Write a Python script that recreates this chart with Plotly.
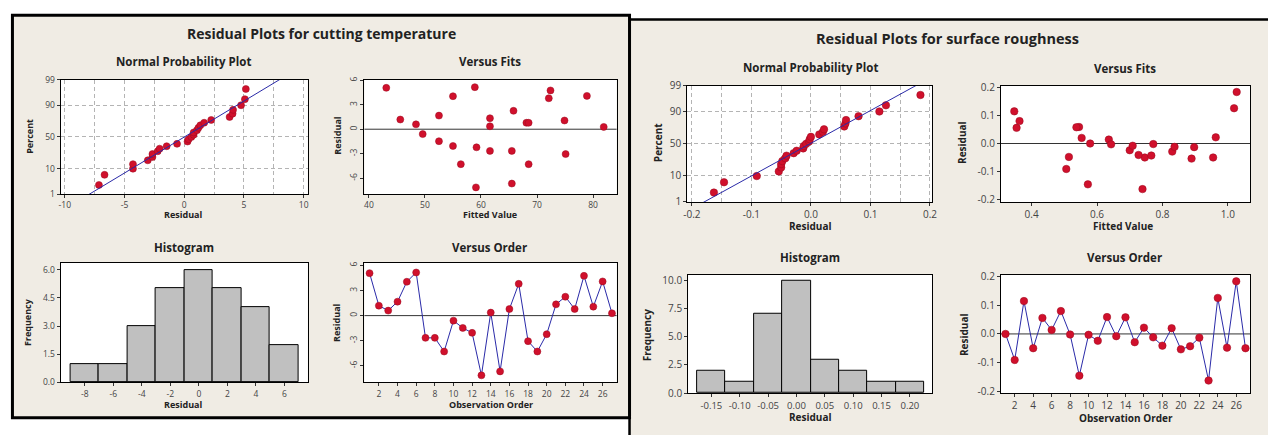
import plotly.graph_objects as go
from statistics import NormalDist, mean, stdev

W, H = 1268, 435

# ---------------- data: cutting temperature ----------------
temp_order = list(range(1, 28))
temp_resid = [5.08, 1.19, 0.60, 1.67, 4.05, 5.16, -2.66, -2.66, -4.29, -0.60,
              -1.47, -2.06, -7.14, 0.36, -6.67, 0.79, 3.80, -3.05, -4.29, -2.22,
              1.35, 2.26, 0.79, 4.76, 1.07, 4.09, 0.28]
temp_fit = [43.1, 45.6, 48.4, 52.5, 55.0, 58.9, 61.6, 65.5, 56.4, 49.6,
            52.5, 55.0, 59.1, 61.6, 65.5, 68.1, 72.1, 75.1, 68.5, 59.2,
            61.6, 65.8, 68.5, 72.4, 74.9, 78.9, 81.9]

# ---------------- data: surface roughness ----------------
rough_order = list(range(1, 28))
rough_resid = [0.000, -0.091, 0.115, -0.050, 0.056, 0.014, 0.080, -0.002, -0.146, -0.003,
               -0.024, 0.059, -0.008, 0.058, -0.029, 0.022, -0.012, -0.041, 0.020, -0.054,
               -0.043, -0.013, -0.163, 0.126, -0.048, 0.184, -0.050]
rough_fit = [0.579, 0.506, 0.347, 0.746, 0.354, 0.636, 0.363, 0.772, 0.572, 0.643,
             0.700, 0.545, 0.709, 0.537, 0.830, 0.963, 0.837, 0.727, 0.553, 0.889,
             0.766, 0.897, 0.739, 1.019, 0.514, 1.027, 0.955]

# ---------------- tick labels ----------------
pct_ticks = [1, 10, 50, 90, 99]
pct_labels = ["1", "10", "50", "90", "99"]
temp_npp_x = [-10, -5, 0, 5, 10]
temp_npp_x_lbl = ["-10", "-5", "0", "5", "10"]
temp_res_ticks = [-6, -3, 0, 3, 6]
temp_res_lbl = ["-6", "-3", "0", "3", "6"]
temp_fit_ticks = [40, 50, 60, 70, 80]
temp_fit_lbl = ["40", "50", "60", "70", "80"]
temp_hist_x = [-8, -6, -4, -2, 0, 2, 4, 6]
temp_hist_x_lbl = ["-8", "-6", "-4", "-2", "0", "2", "4", "6"]
temp_hist_y = [0, 1.5, 3.0, 4.5, 6.0]
temp_hist_y_lbl = ["0.0", "1.5", "3.0", "4.5", "6.0"]
order_ticks = list(range(2, 27, 2))
order_lbl = [str(v) for v in order_ticks]
rough_npp_x = [-0.2, -0.1, 0.0, 0.1, 0.2]
rough_npp_x_lbl = ["-0.2", "-0.1", "0.0", "0.1", "0.2"]
rough_res_ticks = [-0.2, -0.1, 0.0, 0.1, 0.2]
rough_res_lbl = ["-0.2", "-0.1", "0.0", "0.1", "0.2"]
rough_fit_ticks = [0.4, 0.6, 0.8, 1.0]
rough_fit_lbl = ["0.4", "0.6", "0.8", "1.0"]
rough_hist_x = [-0.15, -0.10, -0.05, 0.0, 0.05, 0.10, 0.15, 0.20]
rough_hist_x_lbl = ["-0.15", "-0.10", "-0.05", "0.00", "0.05", "0.10", "0.15", "0.20"]
rough_hist_y = [0, 2.5, 5.0, 7.5, 10.0]
rough_hist_y_lbl = ["0.0", "2.5", "5.0", "7.5", "10.0"]

# ---------------- style ----------------
FONT = "Open Sans"
BEIGE = "#f0ece4"
RED = "#d0102c"
REDEDGE = "#9a0a1e"
BLUE = "#2a2aa8"
GRID = "#b4b4b4"
DASH = "4px,3px"
TXT = "#222222"
TICK = "#444444"

nd = NormalDist()
zt = [nd.inv_cdf(p / 100.0) for p in pct_ticks]
zrange = [zt[0], zt[-1]]


def npp(vals):
    s = sorted(vals)
    n = len(s)
    z = [nd.inv_cdf((i + 1 - 0.3) / (n + 0.4)) for i in range(n)]
    m, sd = mean(vals), stdev(vals)
    zl = [-3.5, 3.5]
    xl = [m + sd * q for q in zl]
    return s, z, xl, zl


def dom_x(a, b):
    return [a / W, b / W]


def dom_y(top, bottom):
    return [1 - bottom / H, 1 - top / H]


def axis(domain, rng, tv, tt, anchor, size, angle=0, grid=False, minor=None):
    d = dict(domain=domain, range=rng, tickvals=tv, ticktext=tt, anchor=anchor,
             showline=True, linecolor="black", linewidth=1, mirror=True,
             ticks="outside", ticklen=3, tickcolor="#333", tickangle=angle,
             tickfont=dict(family=FONT, size=size, color=TICK),
             showgrid=grid, zeroline=False, fixedrange=True)
    if grid:
        d.update(gridcolor=GRID, griddash=DASH, gridwidth=1)
    if minor is not None:
        d["minor"] = dict(dtick=minor, tick0=0, showgrid=True, gridcolor=GRID,
                          griddash=DASH, gridwidth=1, ticks="")
    return d


fig = go.Figure()

mk = dict(color=RED, size=7, line=dict(color=REDEDGE, width=0.5))
mk2 = dict(color=RED, size=7.5, line=dict(color=REDEDGE, width=0.5))

# ---- left: cutting temperature ----
s, z, xl, zl = npp(temp_resid)
fig.add_trace(go.Scatter(x=s, y=z, mode="markers", marker=mk, xaxis="x", yaxis="y"))
fig.add_trace(go.Scatter(x=xl, y=zl, mode="lines", line=dict(color=BLUE, width=1),
                         xaxis="x", yaxis="y"))
fig.add_trace(go.Scatter(x=temp_fit, y=temp_resid, mode="markers", marker=mk,
                         xaxis="x2", yaxis="y2"))
fig.add_trace(go.Histogram(x=temp_resid, xbins=dict(start=-9, end=7, size=2),
                           marker=dict(color="#c0c0c0", line=dict(color="black", width=1)),
                           xaxis="x3", yaxis="y3"))
fig.add_trace(go.Scatter(x=temp_order, y=temp_resid, mode="lines+markers",
                         line=dict(color=BLUE, width=1), marker=mk,
                         xaxis="x4", yaxis="y4"))

# ---- right: surface roughness ----
s, z, xl, zl = npp(rough_resid)
fig.add_trace(go.Scatter(x=s, y=z, mode="markers", marker=mk2, xaxis="x5", yaxis="y5"))
fig.add_trace(go.Scatter(x=xl, y=zl, mode="lines", line=dict(color=BLUE, width=1),
                         xaxis="x5", yaxis="y5"))
fig.add_trace(go.Scatter(x=rough_fit, y=rough_resid, mode="markers", marker=mk2,
                         xaxis="x6", yaxis="y6"))
fig.add_trace(go.Histogram(x=rough_resid, xbins=dict(start=-0.175, end=0.225, size=0.05),
                           marker=dict(color="#c0c0c0", line=dict(color="black", width=1)),
                           xaxis="x7", yaxis="y7"))
fig.add_trace(go.Scatter(x=rough_order, y=rough_resid, mode="lines+markers",
                         line=dict(color=BLUE, width=1), marker=mk2,
                         xaxis="x8", yaxis="y8"))

# plot-area pixel boxes (left, right, top, bottom)
boxes = {
    1: (57, 306, 75, 193),
    2: (363, 617, 75, 193),
    3: (57, 306, 264, 387),
    4: (363, 617, 264, 387),
    5: (688, 935, 81, 201),
    6: (1004, 1255, 81, 201),
    7: (689, 935, 276, 398),
    8: (1004, 1255, 276, 398),
}

L = {}
b = boxes
L["xaxis"] = axis(dom_x(*b[1][:2]), [-10.35, 10.35], temp_npp_x, temp_npp_x_lbl, "y", 8.5,
                  grid=True, minor=2.5)
L["yaxis"] = axis(dom_y(*b[1][2:]), zrange, zt, pct_labels, "x", 8.5, grid=True)
L["xaxis2"] = axis(dom_x(*b[2][:2]), [39.2, 84.2], temp_fit_ticks, temp_fit_lbl, "y2", 8.5)
L["yaxis2"] = axis(dom_y(*b[2][2:]), [-7.98, 6.07], temp_res_ticks, temp_res_lbl, "x2", 8.5,
                   angle=-90)
L["xaxis3"] = axis(dom_x(*b[3][:2]), [-9.7, 7.65], temp_hist_x, temp_hist_x_lbl, "y3", 8.5)
L["yaxis3"] = axis(dom_y(*b[3][2:]), [0, 6.35], temp_hist_y, temp_hist_y_lbl, "x3", 8.5)
L["xaxis4"] = axis(dom_x(*b[4][:2]), [0.45, 27.5], order_ticks, order_lbl, "y4", 8.5)
L["yaxis4"] = axis(dom_y(*b[4][2:]), [-7.99, 6.28], temp_res_ticks, temp_res_lbl, "x4", 8.5,
                   angle=-90)

L["xaxis5"] = axis(dom_x(*b[5][:2]), [-0.208, 0.204], rough_npp_x, rough_npp_x_lbl, "y5", 10,
                   grid=True, minor=0.05)
L["yaxis5"] = axis(dom_y(*b[5][2:]), zrange, zt, pct_labels, "x5", 10, grid=True)
L["xaxis6"] = axis(dom_x(*b[6][:2]), [0.306, 1.068], rough_fit_ticks, rough_fit_lbl, "y6", 10)
L["yaxis6"] = axis(dom_y(*b[6][2:]), [-0.209, 0.207], rough_res_ticks, rough_res_lbl, "x6", 10)
L["xaxis7"] = axis(dom_x(*b[7][:2]), [-0.191, 0.2396], rough_hist_x, rough_hist_x_lbl, "y7", 9.5)
L["yaxis7"] = axis(dom_y(*b[7][2:]), [0, 10.5], rough_hist_y, rough_hist_y_lbl, "x7", 10)
L["xaxis8"] = axis(dom_x(*b[8][:2]), [0.5, 27.5], order_ticks, order_lbl, "y8", 10)
L["yaxis8"] = axis(dom_y(*b[8][2:]), [-0.207, 0.207], rough_res_ticks, rough_res_lbl, "x8", 10)

# ---- shapes: panels, white plot areas, zero lines ----
def prect(x0, x1, y0, y1, fill, lw=0, lc="black"):
    return dict(type="rect", xref="paper", yref="paper", layer="below",
                x0=x0 / W, x1=x1 / W, y0=1 - y1 / H, y1=1 - y0 / H,
                fillcolor=fill, line=dict(color=lc, width=lw))

shapes = [
    prect(630, 1300, 13, 460, BEIGE, 2.5),
    prect(8.5, 630, 8.5, 423.5, BEIGE, 3),
]
for k, (x0, x1, y0, y1) in boxes.items():
    shapes.append(prect(x0, x1, y0, y1, "white", 0, "white"))
for k in (2, 4, 6, 8):
    shapes.append(dict(type="line", xref=f"x{k} domain", yref=f"y{k}", layer="below",
                       x0=0, x1=1, y0=0, y1=0, line=dict(color="#333333", width=1)))

# ---- annotations ----
def ann(text, x, y, size, angle=0, bold=True):
    t = f"<b>{text}</b>" if bold else text
    return dict(text=t, x=x / W, y=1 - y / H, xref="paper", yref="paper",
                showarrow=False, xanchor="center", yanchor="middle", textangle=angle,
                font=dict(family=FONT, size=size, color=TXT))

anns = [
    ann("Residual Plots for cutting temperature", 320, 27, 14),
    ann("Normal Probability Plot", 181, 56, 11.5),
    ann("Versus Fits", 489, 56, 11.5),
    ann("Histogram", 181, 248, 11.5),
    ann("Versus Order", 489, 248, 11.5),
    ann("Residual", 181, 214, 9),
    ann("Percent", 25, 133, 9, -90),
    ann("Fitted Value", 489, 214, 9),
    ann("Residual", 335, 132, 9, -90),
    ann("Residual", 181, 410, 9),
    ann("Frequency", 23, 325, 9, -90),
    ann("Observation Order", 490, 410, 9),
    ann("Residual", 335, 325, 9, -90),

    ann("Residual Plots for surface roughness", 950, 32, 14.5),
    ann("Normal Probability Plot", 812, 62, 11.5),
    ann("Versus Fits", 1129, 63, 11.5),
    ann("Histogram", 812, 258, 11.5),
    ann("Versus Order", 1129, 258, 11.5),
    ann("Residual", 812, 226, 10),
    ann("Percent", 658, 140, 10, -90),
    ann("Fitted Value", 1127, 226, 10),
    ann("Residual", 965, 140, 10, -90),
    ann("Residual", 812, 423, 10),
    ann("Frequency", 647, 338, 10, -90),
    ann("Observation Order", 1130, 424, 10),
    ann("Residual", 967, 338, 10, -90),
]

fig.update_layout(
    width=W, height=H, margin=dict(l=0, r=0, t=0, b=0),
    paper_bgcolor="white", plot_bgcolor="white",
    showlegend=False, bargap=0, shapes=shapes, annotations=anns,
    font=dict(family=FONT, color=TXT),
    **L,
)

POST = (
    "document.documentElement.style.margin='0px';"
    "document.body.style.margin='0px';"
    "document.body.style.padding='0px';"
    "document.body.style.overflow='hidden';"
    "var gd=document.getElementById('{plot_id}');"
    "gd.style.position='fixed';gd.style.left='0px';gd.style.top='0px';"
)

fig.write_html("out.html", config={"displayModeBar": False}, post_script=POST)
